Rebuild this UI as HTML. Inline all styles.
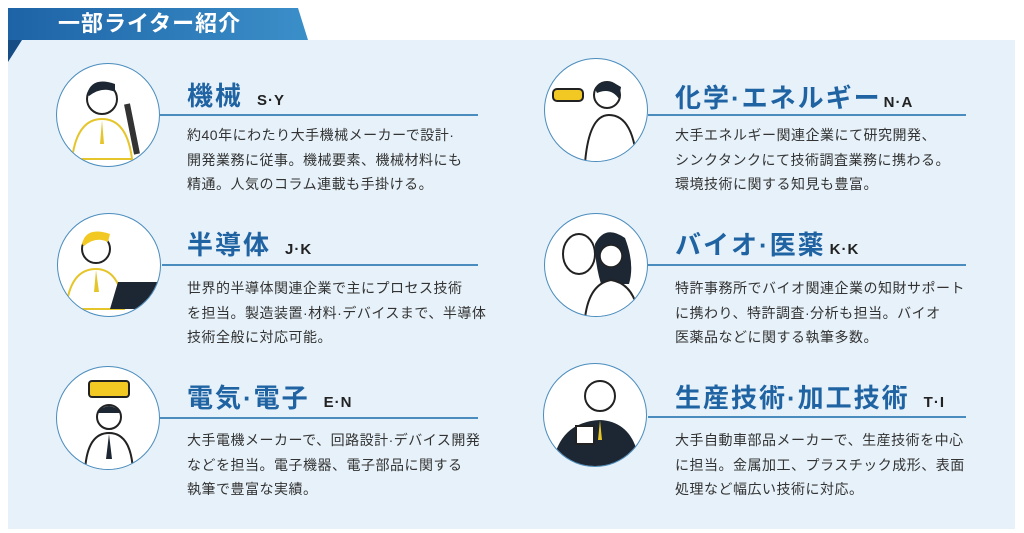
<!DOCTYPE html>
<html><head><meta charset="utf-8"><style>
body{margin:0;width:1024px;height:533px;background:#fff;position:relative;overflow:hidden;font-family:"Liberation Sans","Noto Sans CJK JP",sans-serif}
.panel{position:absolute;left:8px;top:40px;width:1007px;height:489px;background:#e6f1f9}
.ban{position:absolute;left:8px;top:8px;width:300px;height:32px;background:linear-gradient(90deg,#1d63a6,#3b8fc9);clip-path:polygon(0 0,290px 0,300px 32px,0 32px)}
.fold{position:absolute;left:8px;top:40px;width:0;height:0;border-top:22px solid #164d85;border-right:14px solid transparent}
.bt{position:absolute;left:58px;top:8px;height:32px;line-height:32px;color:#fff;font-size:22px;font-weight:bold;letter-spacing:1px}
.c{position:absolute;width:104px;height:104px;border-radius:50%;background:#fff;border:1.5px solid #4a8cbd;box-sizing:border-box;overflow:hidden}
.t{position:absolute;font-size:26px;line-height:30px;font-weight:bold;color:#1f63a3;letter-spacing:2px;white-space:nowrap}
.t span{font-size:15px;color:#222;margin-left:14px;letter-spacing:1px}
.l{position:absolute;height:2px;background:#4a8cbd}
.p{position:absolute;font-size:14px;line-height:24.5px;color:#333;letter-spacing:0.5px;white-space:nowrap}
</style></head><body>
<div class="panel"></div>
<div class="ban"></div><div class="fold"></div>
<div class="bt">一部ライター紹介</div>

<div class="c" style="left:56px;top:63px"><svg width="104" height="104"><circle cx="45" cy="35" r="15" fill="#fff" stroke="#222" stroke-width="2"/><path d="M30 30 Q35 12 58 20 L58 28 Q45 22 32 32Z" fill="#1c2733"/><path d="M15 95 Q20 55 45 55 Q70 55 75 95Z" fill="#fff" stroke="#e5c52a" stroke-width="2"/><path d="M45 56 L47 80 L43 80Z" fill="#e5c52a"/><path d="M70 40 L80 90" stroke="#333" stroke-width="6"/></svg></div>
<div class="t" style="left:187px;top:81px">機械<span>S·Y</span></div>
<div class="l" style="left:160px;top:114px;width:318px"></div>
<div class="p" style="left:187px;top:123px">約40年にわたり大手機械メーカーで設計·<br>開発業務に従事。機械要素、機械材料にも<br>精通。人気のコラム連載も手掛ける。</div>

<div class="c" style="left:57px;top:213px"><svg width="104" height="104"><circle cx="38" cy="35" r="14" fill="#fff" stroke="#222" stroke-width="2"/><path d="M24 30 Q28 12 52 20 L50 28 Q38 22 26 32Z" fill="#f2c823"/><path d="M8 95 Q12 55 38 55 Q62 55 66 95Z" fill="#fff" stroke="#e5c52a" stroke-width="2"/><path d="M38 56 L41 78 L36 78Z" fill="#e5c52a"/><path d="M60 68 L100 68 L92 95 L52 95Z" fill="#1c2733"/></svg></div>
<div class="t" style="left:187px;top:230px">半導体<span>J·K</span></div>
<div class="l" style="left:162px;top:264px;width:316px"></div>
<div class="p" style="left:187px;top:276px">世界的半導体関連企業で主にプロセス技術<br>を担当。製造装置·材料·デバイスまで、半導体<br>技術全般に対応可能。</div>

<div class="c" style="left:56px;top:366px"><svg width="104" height="104"><rect x="32" y="14" width="40" height="16" rx="3" fill="#f2c823" stroke="#222" stroke-width="2"/><circle cx="52" cy="50" r="12" fill="#fff" stroke="#222" stroke-width="2"/><path d="M40 46 Q52 32 64 46Z" fill="#1c2733"/><path d="M28 104 Q30 66 52 66 Q74 66 76 104Z" fill="#fff" stroke="#222" stroke-width="2"/><path d="M52 67 L55 92 L49 92Z" fill="#1c2733"/></svg></div>
<div class="t" style="left:187px;top:383px">電気·電子<span>E·N</span></div>
<div class="l" style="left:160px;top:417px;width:318px"></div>
<div class="p" style="left:187px;top:428px">大手電機メーカーで、回路設計·デバイス開発<br>などを担当。電子機器、電子部品に関する<br>執筆で豊富な実績。</div>

<div class="c" style="left:544px;top:58px"><svg width="104" height="104"><rect x="8" y="30" width="30" height="12" rx="4" fill="#f2c823" stroke="#222" stroke-width="2"/><circle cx="62" cy="36" r="13" fill="#fff" stroke="#222" stroke-width="2"/><path d="M50 30 Q58 16 76 28 L74 40 Q66 28 52 34Z" fill="#1c2733"/><path d="M40 104 Q44 56 64 56 Q88 56 92 104Z" fill="#fff" stroke="#222" stroke-width="2"/></svg></div>
<div class="t" style="left:675px;top:83px">化学·エネルギー<span style="margin-left:2px">N·A</span></div>
<div class="l" style="left:648px;top:114px;width:318px"></div>
<div class="p" style="left:675px;top:123px">大手エネルギー関連企業にて研究開発、<br>シンクタンクにて技術調査業務に携わる。<br>環境技術に関する知見も豊富。</div>

<div class="c" style="left:544px;top:213px"><svg width="104" height="104"><ellipse cx="34" cy="40" rx="16" ry="20" fill="#fff" stroke="#222" stroke-width="2"/><path d="M50 30 Q60 10 80 24 Q90 50 84 70 L56 70 Q50 50 50 30Z" fill="#1c2733"/><circle cx="66" cy="42" r="11" fill="#fff" stroke="#222" stroke-width="1.5"/><path d="M40 104 Q44 70 66 66 Q90 70 94 104Z" fill="#fff" stroke="#222" stroke-width="2"/></svg></div>
<div class="t" style="left:675px;top:230px">バイオ·医薬<span style="margin-left:4px">K·K</span></div>
<div class="l" style="left:648px;top:264px;width:318px"></div>
<div class="p" style="left:675px;top:276px">特許事務所でバイオ関連企業の知財サポート<br>に携わり、特許調査·分析も担当。バイオ<br>医薬品などに関する執筆多数。</div>

<div class="c" style="left:543px;top:363px"><svg width="104" height="104"><circle cx="56" cy="32" r="15" fill="#fff" stroke="#222" stroke-width="2"/><path d="M8 104 Q14 58 56 56 Q92 58 96 104Z" fill="#1c2733"/><rect x="32" y="62" width="18" height="18" fill="#fff" stroke="#222" stroke-width="2"/><path d="M56 56 L58 76 L54 76Z" fill="#e5c52a"/></svg></div>
<div class="t" style="left:675px;top:383px">生産技術·加工技術<span>T·I</span></div>
<div class="l" style="left:648px;top:416px;width:318px"></div>
<div class="p" style="left:675px;top:428px">大手自動車部品メーカーで、生産技術を中心<br>に担当。金属加工、プラスチック成形、表面<br>処理など幅広い技術に対応。</div>
</body></html>
